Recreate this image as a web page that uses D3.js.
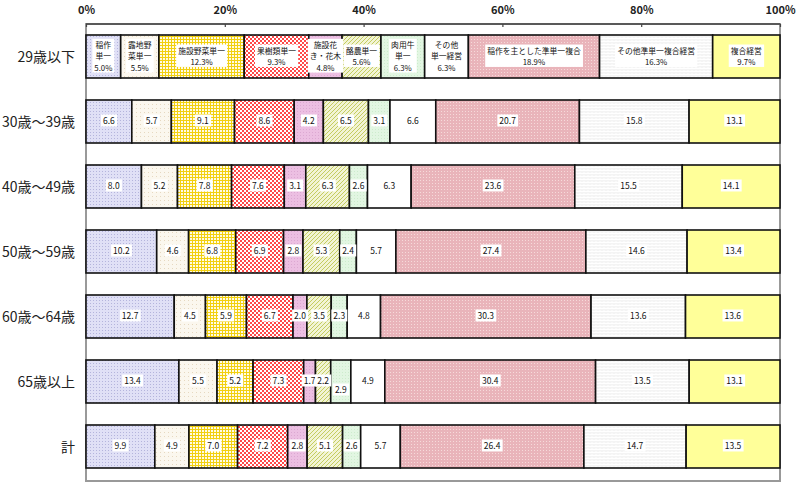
<!DOCTYPE html>
<html><head><meta charset="utf-8">
<script src="https://cdn.jsdelivr.net/npm/d3@7"></script>
<style>body{margin:0;background:#fff}svg{display:block}</style>
</head><body><svg id="c" width="800" height="487"></svg>
<script>
const categories = ["29歳以下","30歳～39歳","40歳～49歳","50歳～59歳","60歳～64歳","65歳以上","計"];
const seriesNames = ["稲作単一","露地野菜単一","施設野菜単一","果樹類単一","施設花き・花木","酪農単一","肉用牛単一","その他単一経営","稲作を主とした準単一複合","その他準単一複合経営","複合経営"];
const firstRowLabels = [["稲作","単一"],["露地野","菜単一"],["施設野菜単一"],["果樹類単一"],["施設花","き・花木"],["酪農単一"],["肉用牛","単一"],["その他","単一経営"],["稲作を主とした準単一複合"],["その他準単一複合経営"],["複合経営"]];
const row29 = [5.0,5.5,12.3,9.3,4.8,5.6,6.3,6.3,18.9,16.3,9.7];
const row30 = [6.6,5.7,9.1,8.6,4.2,6.5,3.1,6.6,20.7,15.8,13.1];
const row40 = [8.0,5.2,7.8,7.6,3.1,6.3,2.6,6.3,23.6,15.5,14.1];
const row50 = [10.2,4.6,6.8,6.9,2.8,5.3,2.4,5.7,27.4,14.6,13.4];
const row60 = [12.7,4.5,5.9,6.7,2.0,3.5,2.3,4.8,30.3,13.6,13.6];
const row65 = [13.4,5.5,5.2,7.3,1.7,2.2,2.9,4.9,30.4,13.5,13.1];
const rowTotal = [9.9,4.9,7.0,7.2,2.8,5.1,2.6,5.7,26.4,14.7,13.5];
const rows = [row29,row30,row40,row50,row60,row65,rowTotal];
const tickValues = [0,20,40,60,80,100];

const svg = d3.select("#c");
const L=86,R=780,T=24,B=481;
const x = d3.scaleLinear().domain([0,100]).range([L,R]);
const y = d3.scaleBand().domain(categories).range([T,T+7*65]).paddingInner(22/65).paddingOuter(11/65);

// patterns
const defs = svg.append("defs");
function pat(id,w,h,bg,draw){
  const p=defs.append("pattern").attr("id",id).attr("width",w).attr("height",h).attr("patternUnits","userSpaceOnUse");
  p.append("rect").attr("width",w).attr("height",h).attr("fill",bg);
  draw(p);
}
pat("p0",3,3,"#e0e0f6",p=>{p.append("rect").attr("width",1).attr("height",1).attr("fill",'#b4b4dc');});
pat("p1",4,4,"#fbf7ee",p=>{p.append("rect").attr("width",1).attr("height",1).attr("fill",'#e6d8c0');});
pat("p2",3,3,"#fffbe4",p=>{p.append("rect").attr("width",3).attr("height",1).attr("fill",'#f2d010');p.append("rect").attr("width",1).attr("height",3).attr("fill",'#f2d010');});
pat("p3",4,4,"#ffffff",p=>{p.append("rect").attr("width",2).attr("height",2).attr("fill",'#ff4848');p.append("rect").attr("x",2).attr("y",2).attr("width",2).attr("height",2).attr("fill",'#ff4848');});
pat("p4",3,3,"#ecbfe2",p=>{p.append("rect").attr("width",1).attr("height",1).attr("fill",'#dca8d2');});
pat("p5",4,4,"#f2f4d4",p=>{p.append("path").attr("d","M0,4L4,0M-1,1L1,-1M3,5L5,3").attr("stroke",'#c4cc60').attr("stroke-width",1);});
pat("p6",3,3,"#e2f6e2",p=>{p.append("rect").attr("width",1).attr("height",1).attr("fill",'#cdeccd');});
pat("p7",3,3,"#ffffff",p=>{});
pat("p8",3,3,"#e9b4ba",p=>{p.append("rect").attr("width",1).attr("height",1).attr("fill",'#f6dada');});
pat("p9",4,3,"#ffffff",p=>{p.append("path").attr("d","M0,1.5L1,0.5L2,1.5L3,0.5L4,1.5").attr("stroke",'#dcdcdc').attr("stroke-width",0.7).attr("fill","none");});
pat("p10",3,3,"#ffff99",p=>{});

// frame
svg.append("rect").attr("x",L).attr("y",T).attr("width",R-L).attr("height",B-T).attr("fill","none").attr("stroke","#999").attr("stroke-width",2);
svg.append("line").attr("x1",L).attr("x2",R).attr("y1",T).attr("y2",T).attr("stroke","#444").attr("stroke-width",1.5);

// top axis
const ax = svg.append("g").attr("transform",`translate(0,${T})`).call(d3.axisTop(x).tickValues(tickValues).tickSize(-3).tickFormat(d=>d+"%"));
ax.select(".domain").remove();
ax.selectAll(".tick line").attr("stroke","#444").attr("stroke-width",1.2);
ax.selectAll(".tick text").attr("y",-10).attr("font-family","'Noto Sans CJK JP', sans-serif").attr("font-size",11).attr("font-weight","bold").attr("fill","#222");

// category labels
svg.append("g").selectAll("text").data(categories).join("text")
  .attr("x",75).attr("y",d=>y(d)+y.bandwidth()/2).attr("dy","0.36em").attr("text-anchor","end")
  .attr("font-family","'Noto Sans CJK JP', sans-serif").attr("font-size",14).attr("fill","#222").text(d=>d);

const nudged = {"65歳以上":{6:9}};
rows.forEach((vals,ri)=>{
  const cat=categories[ri];
  const total=d3.sum(vals);
  let cum=0;
  const segs=vals.map((v,i)=>{const s={i,v,x0:cum/total*100,x1:(cum+v)/total*100};cum+=v;return s;});
  const g=svg.append("g");
  g.selectAll("rect").data(segs).join("rect")
    .attr("x",d=>x(d.x0)).attr("width",d=>x(d.x1)-x(d.x0))
    .attr("y",y(cat)).attr("height",y.bandwidth())
    .attr("fill",d=>`url(#p${d.i})`).attr("stroke","#111").attr("stroke-width",1.6);
  const lg=svg.append("g");
  segs.forEach(s=>{
    const cx=(x(s.x0)+x(s.x1))/2;
    const cy=y(cat)+y.bandwidth()/2+((nudged[cat]||{})[s.i]||0);
    const lines = ri===0 ? firstRowLabels[s.i].concat([s.v.toFixed(1)+"%"]) : [s.v.toFixed(1)];
    const fs = ri===0 ? 7.8 : 8.5;
    const lh = 11.4;
    const tg=lg.append("g");
    const bg=tg.append("rect").attr("fill","#fff");
    const ts=[];
    lines.forEach((ln,k)=>{
      ts.push(tg.append("text").attr("font-family","'Noto Sans CJK JP', sans-serif").attr("font-size",fs).attr("fill","#111").attr("text-anchor","middle")
        .attr("x",cx).attr("y",cy+(k-(lines.length-1)/2)*lh).attr("dy","0.35em").text(ln));
    });
    let x0=1e9,y0=1e9,x1=-1e9,y1=-1e9;
    ts.forEach(t=>{const b=t.node().getBBox();x0=Math.min(x0,b.x);y0=Math.min(y0,b.y);x1=Math.max(x1,b.x+b.width);y1=Math.max(y1,b.y+b.height);});
    bg.attr("x",x0-2).attr("y",y0).attr("width",x1-x0+4).attr("height",y1-y0);
  });
});
</script></body></html>
